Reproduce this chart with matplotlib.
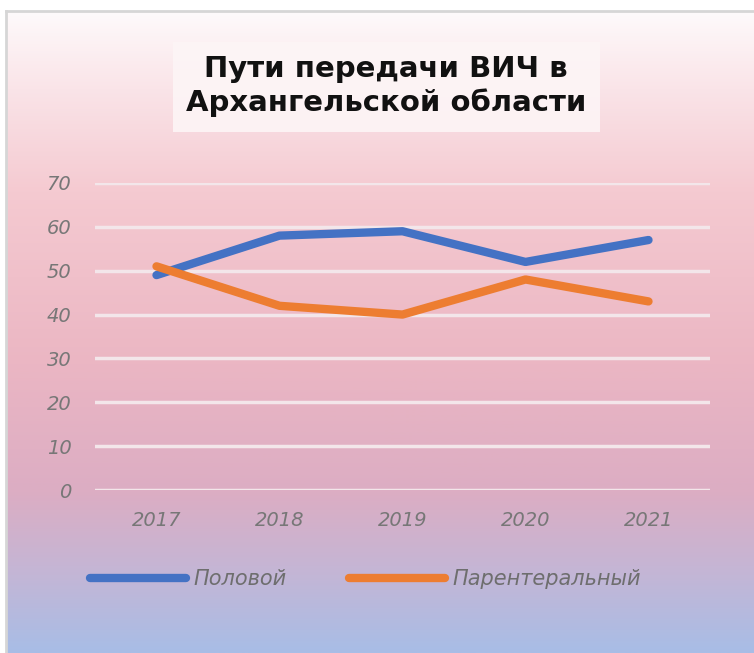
import numpy as np
import matplotlib.pyplot as plt
from matplotlib.colors import LinearSegmentedColormap
from matplotlib.patches import Rectangle

years = ['2017', '2018', '2019', '2020', '2021']
sexual = [49, 58, 59, 52, 57]
parenteral = [51, 42, 40, 48, 43]
series_names = ['Половой', 'Парентеральный']

W, H = 754, 653
fig = plt.figure(figsize=(W / 100, H / 100), dpi=100)
fig.patch.set_facecolor('white')

def box(x0, y0, x1, y1):
    # pixel box (top-left origin) -> figure fraction rect
    return [x0 / W, 1 - y1 / H, (x1 - x0) / W, (y1 - y0) / H]

# gradient background of the chart area
bg = fig.add_axes(box(6, 11, 754, 653))
grad = LinearSegmentedColormap.from_list('bg', [
    (0.0, '#fefafb'), (0.12, '#fae4e8'), (0.28, '#f5cad1'),
    (0.55, '#ebb6c3'), (0.75, '#dcadc3'), (0.88, '#c3b6d6'), (1.0, '#a8bde6')])
bg.imshow(np.linspace(0, 1, 256).reshape(-1, 1), cmap=grad, aspect='auto',
          extent=[0, 1, 0, 1])
bg.set_xticks([])
bg.set_yticks([])
for s in bg.spines.values():
    s.set_color('#d6d6d6')
    s.set_linewidth(2)
bg.spines['right'].set_visible(False)
bg.spines['bottom'].set_visible(False)

# title on a pale panel
fig.patches.append(Rectangle((173 / W, 1 - 132 / H), 427 / W, 90 / H,
                             transform=fig.transFigure, facecolor='#fdf5f6',
                             edgecolor='none', alpha=0.9))
fig.text(386 / W, 1 - 86 / H, 'Пути передачи ВИЧ в\nАрхангельской области',
         ha='center', va='center', fontsize=21, fontweight='bold',
         color='#111111', linespacing=1.2)

ax = fig.add_axes(box(95, 183, 710, 490))
ax.patch.set_alpha(0)
x = np.arange(len(years))
ax.plot(x, sexual, color='#4472c4', lw=6, solid_capstyle='round',
        solid_joinstyle='round', label=series_names[0], zorder=3)
ax.plot(x, parenteral, color='#ed7d31', lw=6, solid_capstyle='round',
        solid_joinstyle='round', label=series_names[1], zorder=3)

ax.set_xlim(-0.5, 4.5)
ax.set_ylim(0, 70)
ax.set_yticks(range(0, 71, 10))
ax.set_xticks(x)
ax.set_xticklabels(years)
ax.grid(axis='y', color='#f3e6ea', lw=2.5)
ax.set_axisbelow(True)
for s in ax.spines.values():
    s.set_visible(False)
ax.tick_params(length=0, labelsize=14, labelcolor='#777777')
ax.tick_params(axis='y', pad=17)
ax.tick_params(axis='x', pad=15)
for lab in ax.get_xticklabels() + ax.get_yticklabels():
    lab.set_fontstyle('italic')

leg = fig.legend(loc='center left', bbox_to_anchor=(80 / W, 1 - 579 / H), ncol=2,
                 frameon=False, prop={'size': 15, 'style': 'italic'},
                 handlelength=4.6, handletextpad=0.35, columnspacing=3.0,
                 labelcolor='#6e6e6e', borderpad=0)

fig.savefig('out.png', dpi=100)
